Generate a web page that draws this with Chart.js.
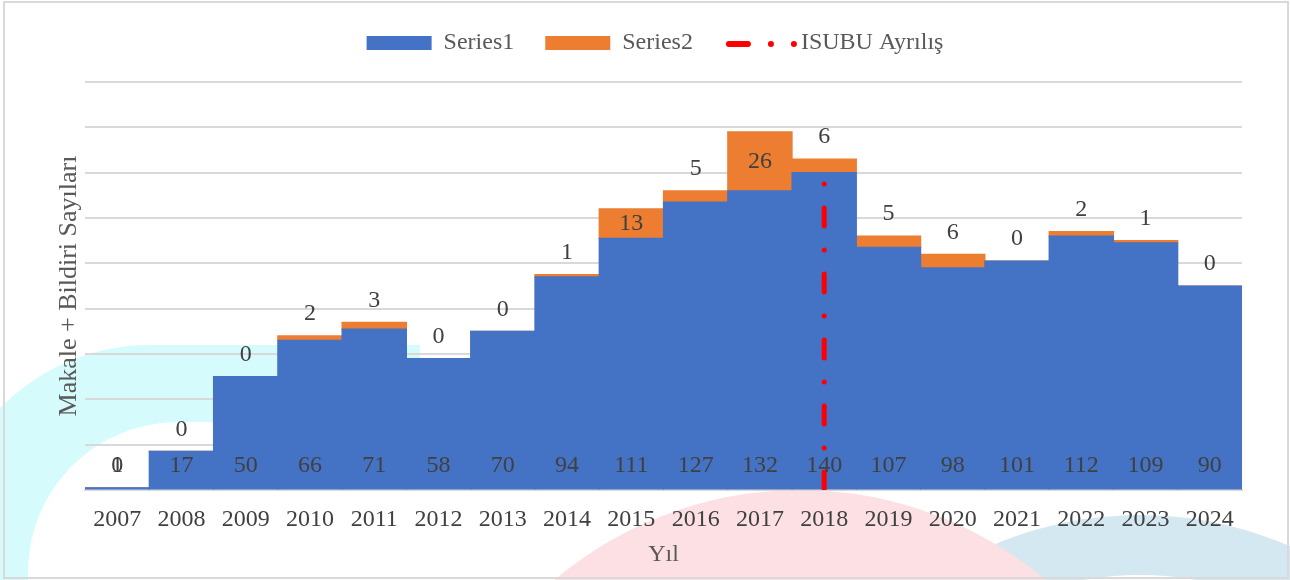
<!DOCTYPE html>
<html>
<head>
<meta charset="utf-8">
<title>Makale + Bildiri Sayıları</title>
<script src="https://cdn.jsdelivr.net/npm/chart.js@4.4.1/dist/chart.umd.min.js"></script>
<style>
  html, body { margin: 0; padding: 0; background: #ffffff; }
  #wrap { position: relative; width: 1290px; height: 580px; }
</style>
</head>
<body>
<div id="wrap"><canvas id="chart"></canvas></div>
<script>
// ----- chart data -----
var years = ["2007", "2008", "2009", "2010", "2011", "2012", "2013", "2014", "2015",
             "2016", "2017", "2018", "2019", "2020", "2021", "2022", "2023", "2024"];
var series1 = [1, 17, 50, 66, 71, 58, 70, 94, 111, 127, 132, 140, 107, 98, 101, 112, 109, 90];
var series2 = [0, 0, 0, 2, 3, 0, 0, 1, 13, 5, 26, 6, 5, 6, 0, 2, 1, 0];

// vertical marker: the year it stands on and the value range it spans
var isubuYear = "2018";
var isubuRange = [0, 136];

// y axis (tick labels are hidden in the original, only gridlines remain)
var yMin = 0;
var yMax = 180;
var yStep = 20;

var FONT = "'Liberation Serif', 'Times New Roman', serif";
var TEXT_DARK = "#404040";
var TEXT_MID = "#595959";

var isubuPoints = isubuRange.map(function(v) { return { x: isubuYear, y: v }; });

/**
 * Faint watermark behind the chart + white background.
 */
var backgroundPlugin = {
  id: "background",
  beforeDraw: function(chart) {
    var ctx = chart.ctx;
    ctx.save();
    ctx.fillStyle = "#ffffff";
    ctx.fillRect(0, 0, chart.width, chart.height);

    // left cyan band (rounded corner shape), kept to the left part
    ctx.save();
    ctx.beginPath();
    ctx.rect(0, 0, 420, chart.height);
    ctx.clip();
    ctx.beginPath();
    ctx.roundRect(-60, 345, 900, 500, 210);
    ctx.roundRect(28, 422, 900, 500, 150);
    ctx.fillStyle = "#d6fbfd";
    ctx.fill("evenodd");
    ctx.restore();

    // right light-blue arc
    ctx.lineWidth = 60;
    ctx.strokeStyle = "#d3e8f0";
    ctx.beginPath();
    ctx.arc(1140, 890, 345, 0, Math.PI * 2);
    ctx.stroke();

    // pink logo ring at the bottom
    ctx.lineWidth = 130;
    ctx.strokeStyle = "#fde0e3";
    ctx.beginPath();
    ctx.arc(800, 870, 315, 0, Math.PI * 2);
    ctx.stroke();
    ctx.restore();
  }
};

/**
 * Extra room under the legend and shift it a bit right, like the original.
 */
var legendLayoutPlugin = {
  id: "legendLayout",
  beforeInit: function(chart) {
    var fit = chart.legend.fit;
    chart.legend.fit = function() {
      fit.bind(chart.legend)();
      this.height += 17;
    };
  },
  afterLayout: function(chart) {
    chart.legend.left = 68;
  }
};

/**
 * Value labels: Series1 at the bar base, Series2 centred in its segment
 * or just above the stack when the segment is too thin.
 */
var labelPlugin = {
  id: "barLabels",
  afterDatasetsDraw: function(chart) {
    var ctx = chart.ctx;
    ctx.save();
    ctx.font = "24px " + FONT;
    ctx.fillStyle = TEXT_DARK;
    ctx.textAlign = "center";
    ctx.textBaseline = "middle";

    var meta1 = chart.getDatasetMeta(0);
    meta1.data.forEach(function(bar, i) {
      ctx.fillText(String(series1[i]), bar.x, bar.base - 23);
    });

    var meta2 = chart.getDatasetMeta(1);
    meta2.data.forEach(function(bar, i) {
      var h = bar.base - bar.y;
      var y = h >= 25 ? (bar.y + bar.base) / 2 : bar.y - 22;
      ctx.fillText(String(series2[i]), bar.x, y);
    });
    ctx.restore();
  }
};

/**
 * Dash-dot sample for the marker's legend entry and the outer frame.
 */
var decorPlugin = {
  id: "decor",
  afterDraw: function(chart) {
    var ctx = chart.ctx;
    ctx.save();
    var hb = chart.legend.legendHitBoxes && chart.legend.legendHitBoxes[2];
    if (hb) {
      var cy = hb.top + hb.height / 2 + 1;
      ctx.strokeStyle = "#ff0000";
      ctx.fillStyle = "#ff0000";
      ctx.lineCap = "round";
      ctx.lineWidth = 6;
      ctx.beginPath();
      ctx.moveTo(hb.left + 5, cy);
      ctx.lineTo(hb.left + 24, cy);
      ctx.stroke();
      [47, 70].forEach(function(dx) {
        ctx.beginPath();
        ctx.arc(hb.left + dx, cy, 3, 0, Math.PI * 2);
        ctx.fill();
      });
    }
    ctx.strokeStyle = "#d9d9d9";
    ctx.lineWidth = 2;
    ctx.strokeRect(4, 2, chart.width - 6, chart.height - 4);
    ctx.restore();
  }
};

var ctx = document.getElementById("chart").getContext("2d");

new Chart(ctx, {
  type: "bar",
  data: {
    labels: years,
    datasets: [
      {
        label: "Series1",
        data: series1,
        backgroundColor: "#4472c4",
        borderWidth: 0,
        inflateAmount: 0.6,
        grouped: false,
        categoryPercentage: 1,
        barPercentage: 1,
        order: 1
      },
      {
        label: "Series2",
        data: series2,
        backgroundColor: "#ed7d31",
        borderWidth: 0,
        inflateAmount: 0.6,
        grouped: false,
        categoryPercentage: 1,
        barPercentage: 1,
        order: 1
      },
      {
        type: "line",
        label: "ISUBU Ayrılış",
        data: isubuPoints,
        borderColor: "#ff0000",
        borderWidth: 5,
        borderDash: [18, 24, 0, 24],
        borderCapStyle: "round",
        pointRadius: 0,
        fill: false,
        order: 0
      }
    ]
  },
  options: {
    responsive: true,
    maintainAspectRatio: false,
    animation: false,
    layout: { padding: { left: 0, right: 48, top: 0, bottom: 0 } },
    plugins: {
      tooltip: { enabled: false },
      legend: {
        position: "top",
        labels: {
          boxWidth: 65,
          boxHeight: 14,
          padding: 31,
          color: TEXT_MID,
          font: { family: FONT, size: 24 },
          sort: function(a, b) { return a.datasetIndex - b.datasetIndex; },
          generateLabels: function(chart) {
            var items = Chart.defaults.plugins.legend.labels.generateLabels(chart);
            items.forEach(function(item) {
              if (item.datasetIndex === 2) {
                item.fillStyle = "rgba(0,0,0,0)";
                item.strokeStyle = "rgba(0,0,0,0)";
                item.lineWidth = 0;
                item.lineDash = [];
              } else {
                item.lineWidth = 0;
              }
            });
            return items;
          }
        }
      }
    },
    scales: {
      x: {
        stacked: true,
        grid: { display: false, drawTicks: false },
        border: { display: true, color: "#d9d9d9", width: 2 },
        ticks: { color: TEXT_DARK, font: { family: FONT, size: 24 }, padding: 15, autoSkip: false, maxRotation: 0 },
        title: {
          display: true,
          text: "Yıl",
          color: TEXT_MID,
          font: { family: FONT, size: 24 },
          padding: { top: 0, bottom: 11 }
        },
        afterFit: function(scale) { scale.height = 90; }
      },
      y: {
        stacked: true,
        min: yMin,
        max: yMax,
        ticks: { display: false, stepSize: yStep },
        grid: { color: "#d9d9d9", lineWidth: 2, drawTicks: false },
        border: { display: false },
        title: {
          display: true,
          text: "Makale + Bildiri Sayıları",
          color: TEXT_MID,
          font: { family: FONT, size: 26 },
          padding: { top: 54, bottom: 0 }
        },
        afterFit: function(scale) { scale.width = 85; }
      }
    }
  },
  plugins: [backgroundPlugin, legendLayoutPlugin, labelPlugin, decorPlugin]
});
</script>
</body>
</html>
